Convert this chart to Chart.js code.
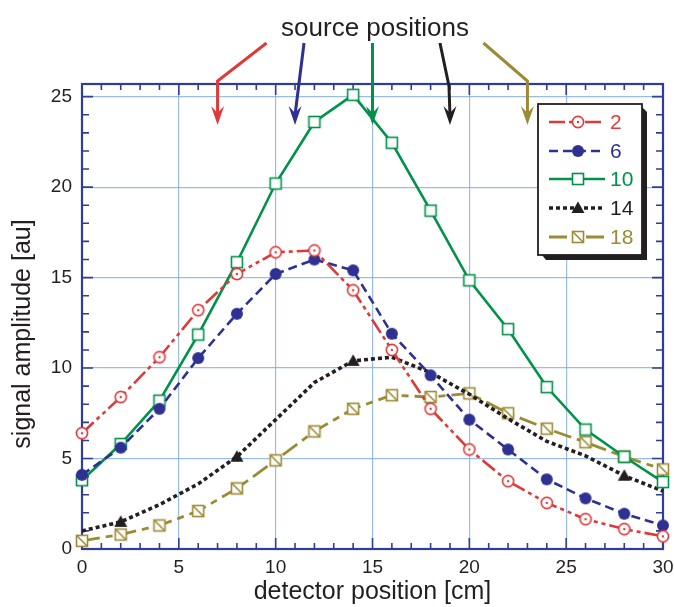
<!DOCTYPE html>
<html>
<head>
<meta charset="utf-8">
<script src="https://cdn.jsdelivr.net/npm/chart.js@4"></script>
<style>
  html, body { margin: 0; padding: 0; background: #fff; }
  #chart { display: block; }
</style>
</head>
<body>
<canvas id="chart" width="674" height="607"></canvas>
<script>
// detector positions (cm)
const positions = [0, 2, 4, 6, 8, 10, 12, 14, 16, 18, 20, 22, 24, 26, 28, 30];

// signal amplitude per source label
const seriesLabels = ['2', '6', '10', '14', '18'];
const amp2  = [6.4, 8.4, 10.6, 13.2, 15.2, 16.4, 16.5, 14.3, 11.0, 7.75, 5.5, 3.75, 2.55, 1.65, 1.1, 0.7];
const amp6  = [4.1, 5.6, 7.75, 10.55, 13.0, 15.2, 16.0, 15.4, 11.9, 9.6, 7.15, 5.5, 3.85, 2.8, 1.95, 1.3];
const amp10 = [3.8, 5.8, 8.2, 11.85, 15.85, 20.2, 23.6, 25.1, 22.45, 18.7, 14.85, 12.15, 8.95, 6.6, 5.1, 3.7];
const amp14 = [1.0, 1.5, 2.45, 3.6, 5.1, 7.15, 9.2, 10.4, 10.6, 9.75, 8.55, 7.2, 5.95, 5.15, 4.05, 3.2];
const amp18 = [0.45, 0.8, 1.3, 2.1, 3.35, 4.9, 6.5, 7.75, 8.5, 8.4, 8.6, 7.5, 6.65, 5.9, 5.1, 4.4];
// series 14 only shows markers at these detector positions
const markers14 = [2, 8, 14, 28];

// arrows at the top
const sourcePositions = [7, 11, 15, 19, 23];

const xTicks = [0, 5, 10, 15, 20, 25, 30];
const yTicks = [0, 5, 10, 15, 20, 25];

const FONT = '"Liberation Sans", Arial, Helvetica, sans-serif';
const TEXT = '#231f20';
const AXIS = '#2f3d99';
const GRID = 'rgba(120,165,225,0.75)';
const colors = ['#de3a3a', '#2e3192', '#00924a', '#231f20', '#9c8b35'];
const dashes = [[16, 4, 4, 4, 4, 4], [9, 5], [], [4, 3], [18, 6, 7, 6]];
const widths = [2.6, 2.6, 2.6, 3.6, 2.8];

function makeMarker(kind, color) {
    const c = document.createElement('canvas');
    c.width = 18; c.height = 18;
    const g = c.getContext('2d');
    g.strokeStyle = color; g.fillStyle = color; g.lineWidth = 1.6;
    if (kind === 'circleDot') {
        g.beginPath(); g.arc(9, 9, 5.6, 0, Math.PI * 2);
        g.fillStyle = '#fff'; g.fill(); g.stroke();
        g.fillStyle = color;
        g.beginPath(); g.arc(9, 9, 1.2, 0, Math.PI * 2); g.fill();
    } else if (kind === 'dot') {
        g.beginPath(); g.arc(9, 9, 6, 0, Math.PI * 2); g.fill();
    } else if (kind === 'square') {
        g.fillStyle = '#fff';
        g.fillRect(3.5, 3.5, 11, 11);
        g.strokeRect(3.5, 3.5, 11, 11);
    } else if (kind === 'triangle') {
        g.beginPath(); g.moveTo(9, 2.5); g.lineTo(15.5, 14); g.lineTo(2.5, 14); g.closePath(); g.fill();
    } else if (kind === 'squareSlash') {
        g.fillStyle = '#fff';
        g.fillRect(3.5, 3.5, 11, 11);
        g.strokeRect(3.5, 3.5, 11, 11);
        g.beginPath(); g.moveTo(3.5, 3.5); g.lineTo(14.5, 14.5); g.stroke();
    }
    return c;
}

const markerKinds = ['circleDot', 'dot', 'square', 'triangle', 'squareSlash'];
const markerImgs = markerKinds.map((k, i) => makeMarker(k, colors[i]));
const allSeries = [amp2, amp6, amp10, amp14, amp18];

const datasets = allSeries.map((vals, i) => ({
    label: seriesLabels[i],
    data: positions.map((p, j) => ({ x: p, y: vals[j] })),
    borderColor: colors[i],
    backgroundColor: colors[i],
    borderWidth: widths[i],
    borderDash: dashes[i],
    borderCapStyle: 'butt',
    pointStyle: markerImgs[i],
    pointRadius: i === 3 ? positions.map(p => markers14.includes(p) ? 6 : 0) : 6,
    tension: 0,
    fill: false,
    clip: false
}));

// frame with inward ticks on all four sides
const framePlugin = {
    id: 'frame',
    beforeDatasetsDraw(chart) {
        const { ctx, chartArea: a, scales } = chart;
        const xs = scales.x, ys = scales.y;
        ctx.save();
        ctx.strokeStyle = AXIS;
        ctx.lineWidth = 1.6;
        for (let v = 0; v <= 30; v++) {
            const px = xs.getPixelForValue(v);
            const len = v % 5 === 0 ? 11 : 6;
            ctx.beginPath();
            ctx.moveTo(px, a.bottom); ctx.lineTo(px, a.bottom - len);
            ctx.moveTo(px, a.top); ctx.lineTo(px, a.top + len);
            ctx.stroke();
        }
        for (let v = 0; v <= 25; v++) {
            const py = ys.getPixelForValue(v);
            const len = v % 5 === 0 ? 11 : 7;
            ctx.beginPath();
            ctx.moveTo(a.left, py); ctx.lineTo(a.left + len, py);
            ctx.moveTo(a.right, py); ctx.lineTo(a.right - len, py);
            ctx.stroke();
        }
        ctx.lineWidth = 2.2;
        ctx.strokeRect(a.left, a.top, a.right - a.left, a.bottom - a.top);
        ctx.restore();
    }
};

// y title, "source positions" arrows and legend box
const overlayPlugin = {
    id: 'overlay',
    afterDraw(chart) {
        const { ctx, scales } = chart;
        const xs = scales.x;
        ctx.save();
        ctx.fillStyle = TEXT;
        ctx.font = '25px ' + FONT;
        ctx.textAlign = 'center';
        ctx.textBaseline = 'middle';
        ctx.save();
        ctx.translate(23, 334);
        ctx.rotate(-Math.PI / 2);
        ctx.fillText('signal amplitude [au]', 0, 0);
        ctx.restore();

        ctx.font = '26px ' + FONT;
        ctx.textBaseline = 'alphabetic';
        ctx.fillText('source positions', 375, 36);

        // per-arrow shape: start dx, bend dx, bend y
        const shapes = [[49, 0, 81], [9, null, null], [0, null, null], [-10, -1, 86], [-44, 0, 81]];
        sourcePositions.forEach((s, i) => {
            const tx = xs.getPixelForValue(s);
            const ty = 125;
            const [sdx, bdx, by] = shapes[i];
            ctx.strokeStyle = colors[i];
            ctx.fillStyle = colors[i];
            ctx.lineWidth = 3;
            ctx.setLineDash([]);
            ctx.beginPath();
            ctx.moveTo(tx + sdx, 43);
            if (bdx !== null) ctx.lineTo(tx + bdx, by);
            ctx.lineTo(tx, ty - 10);
            ctx.stroke();
            ctx.beginPath();
            ctx.moveTo(tx, ty);
            ctx.lineTo(tx - 6.5, ty - 19);
            ctx.lineTo(tx, ty - 12);
            ctx.lineTo(tx + 6.5, ty - 19);
            ctx.closePath();
            ctx.fill();
        });

        // legend
        const bx = 538, by0 = 104, bw = 104, bh = 151;
        ctx.fillStyle = '#231f20';
        ctx.beginPath();
        ctx.moveTo(bx + 4, by0 + bh);
        ctx.lineTo(bx + 8, by0 + bh + 5);
        ctx.lineTo(bx + bw + 5, by0 + bh + 5);
        ctx.lineTo(bx + bw + 5, by0 + 8);
        ctx.lineTo(bx + bw, by0 + 3);
        ctx.closePath();
        ctx.fill();
        ctx.fillStyle = '#fff';
        ctx.fillRect(bx, by0, bw, bh);
        ctx.strokeStyle = '#231f20';
        ctx.lineWidth = 1.8;
        ctx.strokeRect(bx, by0, bw, bh);

        const rows = [122, 151, 179, 208, 237];
        ctx.font = '21px ' + FONT;
        ctx.textAlign = 'left';
        ctx.textBaseline = 'middle';
        seriesLabels.forEach((lab, i) => {
            const y = rows[i];
            ctx.strokeStyle = colors[i];
            ctx.lineWidth = widths[i];
            ctx.setLineDash(dashes[i]);
            ctx.beginPath();
            ctx.moveTo(549, y); ctx.lineTo(605, y);
            ctx.stroke();
            ctx.setLineDash([]);
            ctx.drawImage(markerImgs[i], 578 - 9, y - 9);
            ctx.fillStyle = colors[i];
            ctx.fillText(lab, 610, y + 1);
        });
        ctx.restore();
    }
};

function gridColor(c) {
    const v = c.tick && c.tick.value;
    return (v > 0 && v < 25.5 && v % 5 === 0) || (c.scale.axis === 'x' && v > 0 && v < 30) ? GRID : 'rgba(0,0,0,0)';
}

new Chart(document.getElementById('chart'), {
    type: 'line',
    data: { datasets: datasets },
    options: {
        responsive: false,
        animation: false,
        layout: { padding: { top: 84, right: 11, left: 0, bottom: 0 } },
        plugins: { legend: { display: false }, tooltip: { enabled: false } },
        scales: {
            x: {
                type: 'linear',
                min: 0, max: 30,
                afterBuildTicks: s => { s.ticks = xTicks.map(v => ({ value: v })); },
                afterFit: s => { s.height = 58; s.paddingLeft = 0; s.paddingRight = 0; },
                grid: { color: gridColor, lineWidth: 1.2, drawTicks: false },
                border: { display: false },
                ticks: { color: TEXT, font: { family: FONT, size: 19 }, padding: 7 },
                title: { display: true, text: 'detector position [cm]', color: TEXT,
                         font: { family: FONT, size: 25 }, padding: { top: 0, bottom: 0 } }
            },
            y: {
                min: 0, max: 25.7,
                afterBuildTicks: s => { s.ticks = yTicks.map(v => ({ value: v })); },
                afterFit: s => { s.width = 82; s.paddingTop = 0; s.paddingBottom = 0; },
                grid: { color: gridColor, lineWidth: 1.2, drawTicks: false },
                border: { display: false },
                ticks: { color: TEXT, font: { family: FONT, size: 19 }, padding: 10 },
                title: { display: false }
            }
        }
    },
    plugins: [framePlugin, overlayPlugin]
});
</script>
</body>
</html>
